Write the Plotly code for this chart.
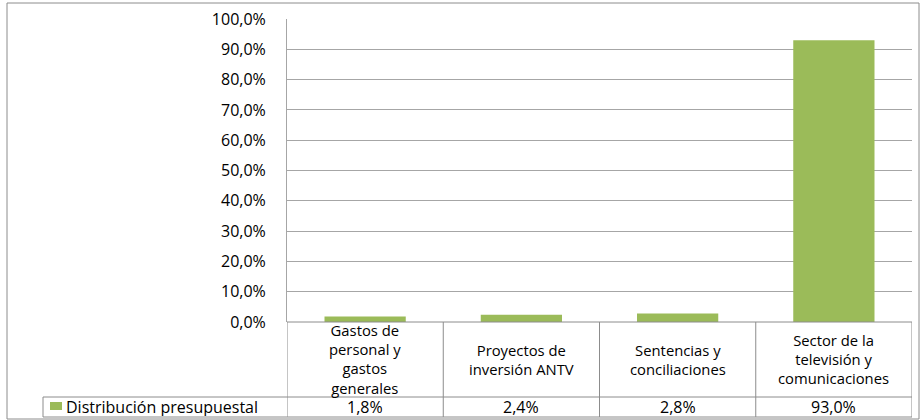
import plotly.graph_objects as go

categories = ["Gastos de<br>personal y<br>gastos<br>generales",
              "Proyectos de<br>inversión ANTV",
              "Sentencias y<br>conciliaciones",
              "Sector de la<br>televisión y<br>comunicaciones"]
values = [0.018, 0.024, 0.028, 0.930]
value_labels = ["1,8%", "2,4%", "2,8%", "93,0%"]
series_name = "Distribución presupuestal"
y_ticks = [0, 0.1, 0.2, 0.3, 0.4, 0.5, 0.6, 0.7, 0.8, 0.9, 1.0]

W, H = 920, 420
L, R, T, B = 287, 8, 19, 98
pw, ph = W - L - R, H - T - B

def px(xp):
    return (xp - L) / pw

def py(yp):
    return (H - B - yp) / ph

GREEN = "#9BBB59"
GRID = "#A6A6A6"
TBL = "#8C8C8C"
FONT = "Open Sans"
FS = 16
FS_CAT = 14.8

xs = list(range(len(values)))
fig = go.Figure(go.Bar(x=xs, y=values, marker=dict(color=GREEN, line=dict(width=0)),
                       width=0.52, name=series_name, showlegend=False, hoverinfo="skip"))

fig.update_layout(
    width=W, height=H,
    margin=dict(l=L, r=R, t=T, b=B, pad=0),
    paper_bgcolor="white", plot_bgcolor="white",
    separators=",.",
    font=dict(family=FONT, size=FS, color="#000000"),
    xaxis=dict(range=[-0.5, len(values) - 0.5], showticklabels=False, showgrid=False,
               zeroline=False, showline=False, fixedrange=True),
    yaxis=dict(range=[0, 1.0], tickvals=y_ticks, tickformat=".1%", showgrid=True,
               gridcolor=GRID, gridwidth=1, zeroline=False, showline=True,
               linecolor=GRID, linewidth=1, ticks="outside", ticklen=17, tickcolor="rgba(0,0,0,0)",
               tickfont=dict(family=FONT, size=FS), fixedrange=True),
)

shapes = []
# outer chart border
shapes.append(dict(type="rect", xref="paper", yref="paper",
                   x0=px(7), x1=px(919), y0=py(3), y1=py(419),
                   line=dict(color="#8C8C8C", width=1), layer="below"))
# data table horizontal lines
y_axis = 0
y_mid = py(397)
y_bot = py(417)
for yv, x0 in [(y_axis, 0), (y_mid, px(43)), (y_bot, px(43))]:
    shapes.append(dict(type="line", xref="paper", yref="paper", x0=x0, x1=1,
                       y0=yv, y1=yv, line=dict(color=TBL, width=1)))
# vertical lines
shapes.append(dict(type="line", xref="paper", yref="paper", x0=px(43), x1=px(43),
                   y0=y_mid, y1=y_bot, line=dict(color=TBL, width=1)))
for xv in [-0.5] + [i + 0.5 for i in xs]:
    shapes.append(dict(type="line", xref="x", yref="paper", x0=xv, x1=xv,
                       y0=0, y1=y_bot, line=dict(color=TBL, width=1)))
# legend key
shapes.append(dict(type="rect", xref="paper", yref="paper",
                   x0=px(50), x1=px(62), y0=py(410), y1=py(402),
                   fillcolor=GREEN, line=dict(width=0)))
fig.update_layout(shapes=shapes)

ann = []
row_center = 359
for i, (c, v) in enumerate(zip(categories, value_labels)):
    ann.append(dict(x=i, y=py(row_center), xref="x", yref="paper", text=c, showarrow=False,
                    xanchor="center", yanchor="middle", align="center", borderpad=0,
                    font=dict(family=FONT, size=FS_CAT)))
    ann.append(dict(x=i, y=py(407), xref="x", yref="paper", text=v, showarrow=False,
                    xanchor="center", yanchor="middle", height=18, borderpad=0,
                    font=dict(family=FONT, size=FS)))
ann.append(dict(x=px(65), y=py(407), xref="paper", yref="paper", text=series_name,
                showarrow=False, xanchor="left", yanchor="middle", height=18, borderpad=0,
                font=dict(family=FONT, size=FS)))
fig.update_layout(annotations=ann)

fig.write_html("out.html", config={"displayModeBar": False},
               post_script="document.body.style.margin='0';document.body.style.overflow='hidden';")
